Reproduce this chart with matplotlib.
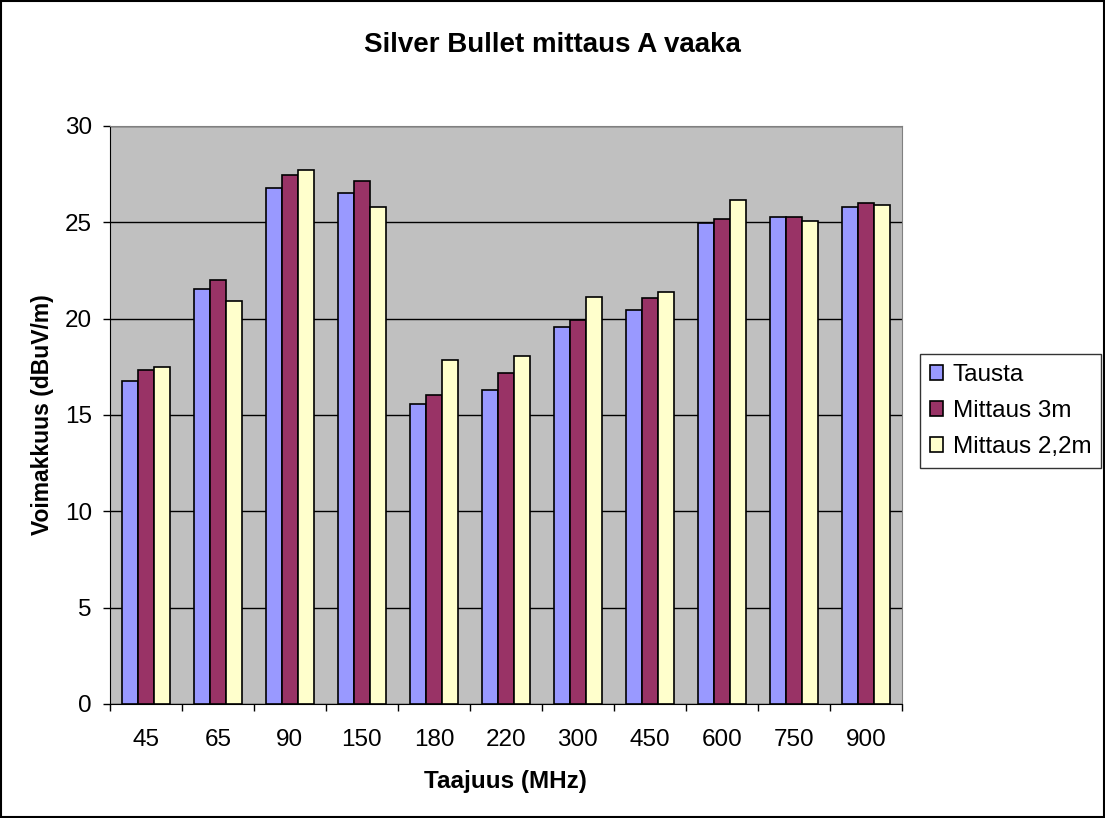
import matplotlib as mpl
mpl.use('Agg')
import matplotlib.pyplot as plt
from matplotlib.patches import Rectangle
import numpy as np

plt.rcParams['font.family'] = ['Liberation Sans', 'DejaVu Sans']

taajuus = ['45', '65', '90', '150', '180', '220', '300', '450', '600', '750', '900']
tausta = [16.76, 21.55, 26.8, 26.54, 15.57, 16.31, 19.56, 20.46, 24.96, 25.26, 25.81]
mittaus_3m = [17.32, 21.98, 27.44, 27.16, 16.04, 17.19, 19.92, 21.08, 25.16, 25.26, 25.98]
mittaus_22m = [17.49, 20.9, 27.7, 25.81, 17.87, 18.04, 21.11, 21.36, 26.16, 25.09, 25.88]

sarjat = [('Tausta', tausta, '#9999FF'),
          ('Mittaus 3m', mittaus_3m, '#993366'),
          ('Mittaus 2,2m', mittaus_22m, '#FFFFCC')]

fig = plt.figure(figsize=(11.05, 8.18), dpi=100)
ax = fig.add_axes([0.0995, 0.1394, 0.7167, 0.7066])
ax.set_facecolor('#C0C0C0')

x = np.arange(len(taajuus))
w = 0.222
for i, (nimi, arvot, vari) in enumerate(sarjat):
    ax.bar(x + (i - 1) * w, arvot, w, color=vari, edgecolor='black',
           linewidth=1.2, label=nimi, zorder=3)

ax.set_xlim(-0.5, len(taajuus) - 0.5)
ax.set_ylim(0, 30)
ax.set_yticks(np.arange(0, 31, 5))
ax.yaxis.grid(True, color='black', linewidth=1, zorder=1)
ax.set_axisbelow(True)
ax.set_xticks(x)
ax.set_xticklabels(taajuus)
ax.set_xticks(np.arange(-0.5, len(taajuus)), minor=True)
ax.tick_params(axis='x', which='major', length=0, pad=18, labelsize=17.5)
ax.tick_params(axis='x', which='minor', length=5, width=1, direction='out')
ax.tick_params(axis='y', length=5, width=1, labelsize=17.5, pad=8)

for side in ['top', 'right']:
    ax.spines[side].set_color('#808080')
for side in ['left', 'bottom']:
    ax.spines[side].set_color('black')

fig.text(0.5, 1 - 45 / 818, 'Silver Bullet mittaus A vaaka', fontsize=20,
         fontweight='bold', ha='center', va='center')
ax.set_xlabel('Taajuus (MHz)', fontsize=17.5, fontweight='bold', labelpad=14)
ax.set_ylabel('Voimakkuus (dBuV/m)', fontsize=16.5, fontweight='bold', labelpad=8)

leg = ax.legend(loc='center left', bbox_to_anchor=(1.0227, 0.507), fontsize=17.5,
                frameon=True, fancybox=False, edgecolor='black',
                handlelength=0.55, handleheight=0.55, handletextpad=0.4,
                borderpad=0.4, borderaxespad=0, labelspacing=0.58)
leg.get_frame().set_linewidth(1)

fig.patches.append(Rectangle((0.001, 0.001), 0.998, 0.998, transform=fig.transFigure,
                             fill=False, edgecolor='black', linewidth=1.5))

plt.savefig('out.png', dpi=100)
